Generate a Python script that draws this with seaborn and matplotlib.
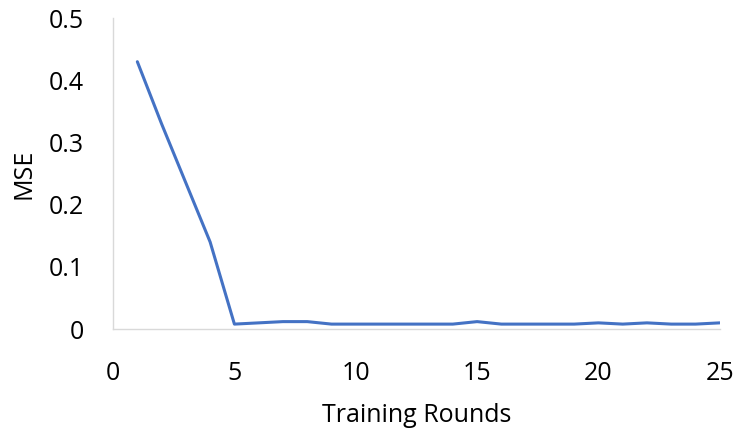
import matplotlib
matplotlib.use("Agg")
import matplotlib.pyplot as plt
import seaborn as sns
import pandas as pd

# Training rounds and the MSE measured after each one
rounds = list(range(1, 26))
mse = [0.43, 0.33, 0.235, 0.14, 0.008, 0.010, 0.012, 0.012, 0.008, 0.008,
       0.008, 0.008, 0.008, 0.008, 0.012, 0.008, 0.008, 0.008, 0.008, 0.010,
       0.008, 0.010, 0.008, 0.008, 0.010]
x_ticks = [0, 5, 10, 15, 20, 25]
y_ticks = [0, 0.1, 0.2, 0.3, 0.4, 0.5]
y_tick_labels = ["0", "0.1", "0.2", "0.3", "0.4", "0.5"]

df = pd.DataFrame({"Training Rounds": rounds, "MSE": mse})

sns.set_theme(style="white")
plt.rcParams["font.family"] = ["Open Sans", "DejaVu Sans"]

fig = plt.figure(figsize=(7.39, 4.33), dpi=100)
ax = fig.add_axes([0.153, 0.240, 0.821, 0.718])

sns.lineplot(data=df, x="Training Rounds", y="MSE", ax=ax,
             color="#4472C4", linewidth=2.2)

ax.set_xlim(0, 25)
ax.set_ylim(0, 0.5)
ax.set_xticks(x_ticks)
ax.set_yticks(y_ticks)
ax.set_yticklabels(y_tick_labels)
ax.tick_params(axis="both", length=0, labelsize=18, colors="#000000")
ax.tick_params(axis="x", pad=23)
ax.tick_params(axis="y", pad=21)

for side in ["top", "right"]:
    ax.spines[side].set_visible(False)
for side in ["left", "bottom"]:
    ax.spines[side].set_color("#D9D9D9")
    ax.spines[side].set_linewidth(1.0)

ax.set_xlabel("Training Rounds", fontsize=18, labelpad=12, color="#000000")
ax.set_ylabel("MSE", fontsize=18, labelpad=9, color="#000000")

fig.savefig("out.png", dpi=100, facecolor="white")
